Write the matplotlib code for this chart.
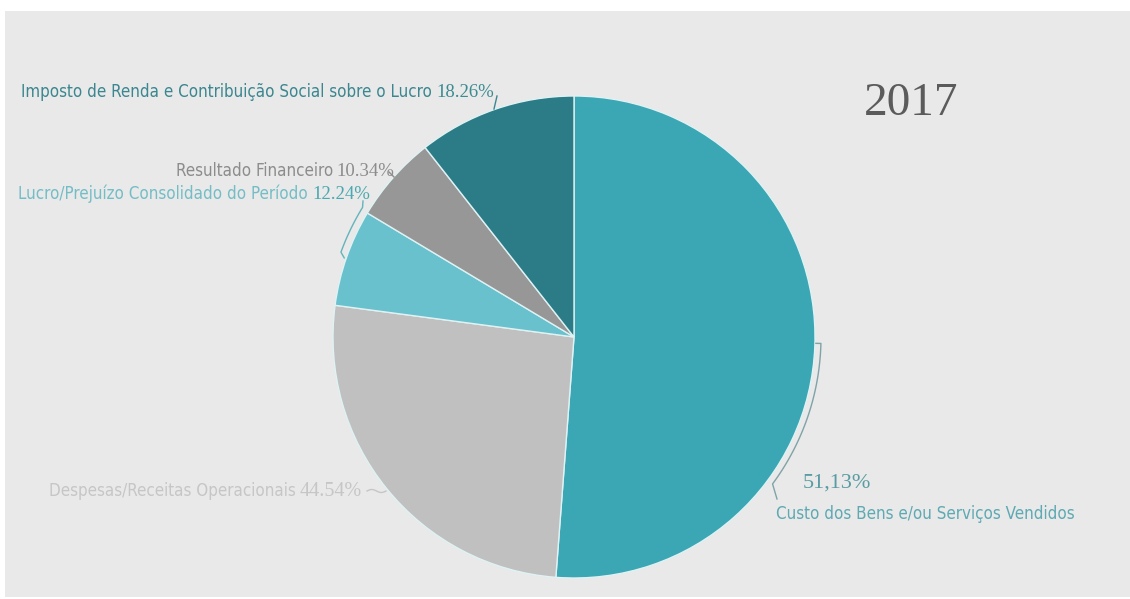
"""Pie chart 2017: composição dos custos/resultado (recreated)."""
import numpy as np
import matplotlib
matplotlib.use("Agg")
import matplotlib.pyplot as plt
from matplotlib import font_manager
from matplotlib.patches import Rectangle

W, H = 1130, 599

# data (clockwise from 12 o'clock)
labels = ["Custo dos Bens e/ou Serviços Vendidos",
          "Despesas/Receitas Operacionais",
          "Lucro/Prejuízo Consolidado do Período",
          "Resultado Financeiro",
          "Imposto de Renda e Contribuição Social sobre o Lucro"]
pct_labels = ["51,13%", "44.54%", "12.24%", "10.34%", "18.26%"]
slice_share = [51.2, 25.9, 6.5, 5.8, 10.6]
slice_colors = ["#3ba6b4", "#c0c0c0", "#68c1cc", "#979797", "#2b7c87"]
label_colors = ["#5ea9b3", "#c6c6c6", "#74bdc6", "#8c8c8c", "#3b8690"]
pct_colors = ["#5a9ca3", "#c6c6c6", "#4aa9b0", "#8c8c8c", "#3b8b93"]
year = "2017"

# pick the narrowest sans available
_fonts = font_manager.fontManager.ttflist
_names = {f.name for f in _fonts}
SANS_STRETCH = "normal"
if any(f.name == "DejaVu Sans" and f.stretch == "condensed" for f in _fonts):
    SANS = ["DejaVu Sans"]
    SANS_STRETCH = "condensed"
elif "Liberation Sans Narrow" in _names:
    SANS = ["Liberation Sans Narrow"]
else:
    SANS = ["Roboto", "DejaVu Sans"]
SERIF = ["Liberation Serif", "DejaVu Serif"]

CX, CY, R = 574, 337, 241   # pie centre / radius in pixels (y from top)


def Y(y):
    return H - y


def polar(ang, rad):
    a = np.deg2rad(ang)
    return CX + rad * np.cos(a), Y(CY) + rad * np.sin(a)


fig = plt.figure(figsize=(W / 100, H / 100), dpi=100, facecolor="white")
ax = fig.add_axes([0, 0, 1, 1])

ax.add_patch(Rectangle((5, Y(597)), W - 5, 597 - 11, facecolor="#e8e9e8",
                       edgecolor="none", zorder=0))

ax.pie(slice_share, colors=slice_colors, startangle=90, counterclock=False,
       center=(CX, Y(CY)), radius=R, frame=True,
       wedgeprops=dict(edgecolor="#dff2f4", linewidth=1.0, zorder=2))
ax.set_xlim(0, W)
ax.set_ylim(0, H)
ax.set_aspect("equal")
ax.axis("off")

sans_size = 15
sans_kw = dict(family=SANS, fontstretch=SANS_STRETCH, fontsize=sans_size,
               va="baseline")
pct_kw = dict(family=SERIF, fontsize=13.5, va="baseline")
texts = []
# Imposto
texts.append(ax.text(432, Y(97), labels[4], ha="right", color=label_colors[4],
                     **sans_kw))
ax.text(436, Y(97), pct_labels[4], ha="left", color=pct_colors[4], **pct_kw)
# Resultado
texts.append(ax.text(333, Y(176), labels[3], ha="right", color=label_colors[3],
                     **sans_kw))
ax.text(336, Y(176), pct_labels[3], ha="left", color=pct_colors[3], **pct_kw)
# Lucro
texts.append(ax.text(308, Y(199), labels[2], ha="right", color=label_colors[2],
                     **sans_kw))
ax.text(312, Y(199), pct_labels[2], ha="left", color=pct_colors[2], **pct_kw)
# Despesas
texts.append(ax.text(296, Y(496), labels[1], ha="right", color=label_colors[1],
                     **sans_kw))
ax.text(300, Y(496), pct_labels[1], ha="left", color=pct_colors[1],
        family=SERIF, fontsize=14.5, va="baseline")
# Custo
texts.append(ax.text(776, Y(519), labels[0], ha="left", color=label_colors[0],
                     **sans_kw))
ax.text(803, Y(488), pct_labels[0], ha="left", va="baseline", family=SERIF,
        fontsize=16, color=pct_colors[0])

ax.text(864, Y(115), year, ha="left", va="baseline", family=SERIF,
        fontsize=34, color="#5b5b5b")

# fit the label font to the reference width
fig.canvas.draw()
w = texts[0].get_window_extent().width
k = 412 / w
for t in texts:
    t.set_fontsize(sans_size * k)

# leader lines
# Custo: bracket following the arc
a = np.linspace(-1.5, -36.5, 60)
xs, ys = polar(a, R + 6)
x0, y0 = polar(-1.5, R + 1)
ax.plot(np.r_[x0, xs, 777], np.r_[y0, ys, Y(499)], color="#7fa3a8", lw=1.0,
        zorder=3)
# Lucro: bracket following the arc
a = np.linspace(148.5, 160, 30)
xs, ys = polar(a, R + 7)
x1, y1 = polar(161, R + 2)
ax.plot(np.r_[363, xs, x1], np.r_[Y(201), ys, y1], color="#62b4bd", lw=1.0,
        zorder=3)
# Imposto / Resultado short ticks
ax.plot([497, 494], [Y(96), Y(109)], color="#3d8790", lw=1.0, zorder=3)
ax.plot([389, 394], [Y(172), Y(177)], color="#8c8c8c", lw=1.0, zorder=3)
# Despesas tilde
tx = np.linspace(367, 386, 20)
ax.plot(tx, Y(491) + 1.5 * np.sin((tx - 367) / 19 * 2 * np.pi), color="#c6c6c6",
        lw=1.0, zorder=3)

fig.savefig("out.png", dpi=100, facecolor="white")
